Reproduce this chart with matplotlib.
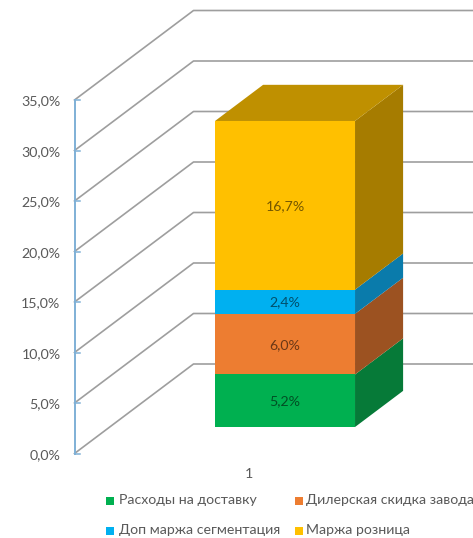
import matplotlib
matplotlib.use('Agg')
from matplotlib import pyplot as plt
from matplotlib.patches import Polygon

plt.rcParams['font.family'] = ['Lato', 'Noto Sans', 'DejaVu Sans']

# data
series = ['Расходы на доставку', 'Дилерская скидка завода', 'Доп маржа сегментация', 'Маржа розница']
values = [5.2, 6.0, 2.4, 16.7]
labels = ['5,2%', '6,0%', '2,4%', '16,7%']
ticks = [0, 5, 10, 15, 20, 25, 30, 35]
tick_labels = ['0,0%', '5,0%', '10,0%', '15,0%', '20,0%', '25,0%', '30,0%', '35,0%']
category = '1'

front = ['#00b050', '#ed7d31', '#00b0f0', '#ffc000']
side = ['#067a38', '#9c5221', '#0a7bab', '#a67c00']
top_col = '#bf9000'
text_col = '#595959'

# oblique projection, in figure pixels
X0, Y0 = 74.5, 453.5
PX_PER_PCT = 10.1
DX, DY = 119, -89.5
BAR_D0, BAR_D1 = 0.296, 0.70
BAR_L, BAR_R = 105.3, 245.3
FS = 10.2


def proj(lat, val, depth):
    return (X0 + lat + DX * depth, Y0 - val * PX_PER_PCT + DY * depth)


fig = plt.figure(figsize=(4.73, 5.38), dpi=100)
ax = fig.add_axes([0, 0, 1, 1])
ax.set_xlim(0, 473)
ax.set_ylim(538, 0)
ax.axis('off')

# gridlines on floor/wall and value axis
for t, lab in zip(ticks, tick_labels):
    a = proj(0, t, 0)
    b = proj(0, t, 1)
    ax.plot([a[0], b[0], 473], [a[1], b[1], b[1]], color='#9e9e9e', lw=1.2, zorder=1)
    ax.plot([a[0], a[0] + 5], [a[1], a[1]], color='#7fb0d6', lw=1.1, zorder=2)
    ax.text(60.5, a[1] + 1.5, lab, ha='right', va='center', fontsize=FS, color=text_col)
ax.plot([X0, X0], [Y0, Y0 - ticks[-1] * PX_PER_PCT], color='#7fb0d6', lw=1.4, zorder=2)

# stacked box
base = 0.0
for i, v in enumerate(values):
    hi = base + v
    ax.add_patch(Polygon([proj(BAR_R, base, BAR_D0), proj(BAR_R, hi, BAR_D0),
                          proj(BAR_R, hi, BAR_D1), proj(BAR_R, base, BAR_D1)],
                         closed=True, fc=side[i], ec='none', zorder=3))
    ax.add_patch(Polygon([proj(BAR_L, base, BAR_D0), proj(BAR_R, base, BAR_D0),
                          proj(BAR_R, hi, BAR_D0), proj(BAR_L, hi, BAR_D0)],
                         closed=True, fc=front[i], ec='none', zorder=4))
    cx, cy = proj((BAR_L + BAR_R) / 2, base + v / 2, BAR_D0)
    ax.text(cx, cy + 0.5, labels[i], ha='center', va='center', fontsize=FS,
            color='black', alpha=0.55, zorder=5)
    base = hi
ax.add_patch(Polygon([proj(BAR_L, base, BAR_D0), proj(BAR_R, base, BAR_D0),
                      proj(BAR_R, base, BAR_D1), proj(BAR_L, base, BAR_D1)],
                     closed=True, fc=top_col, ec='none', zorder=3))

# category label
ax.text(249, 474, category, ha='center', va='center', fontsize=FS, color=text_col)

# legend, written by hand because the last entry runs off the picture
leg_pos = [(110, 500.5), (298.5, 500.5), (110, 530.5), (298.5, 530.5)]
leg_gap = [9, 7.5, 9, 7.5]
for (x, y), gap, name, c in zip(leg_pos, leg_gap, series, front):
    ax.plot([x], [y], marker='s', ms=5.8, color=c, mew=0, zorder=3)
    ax.text(x + gap, y, name, ha='left', va='center', fontsize=FS, color=text_col, clip_on=True)

fig.savefig('out.png', dpi=100)
